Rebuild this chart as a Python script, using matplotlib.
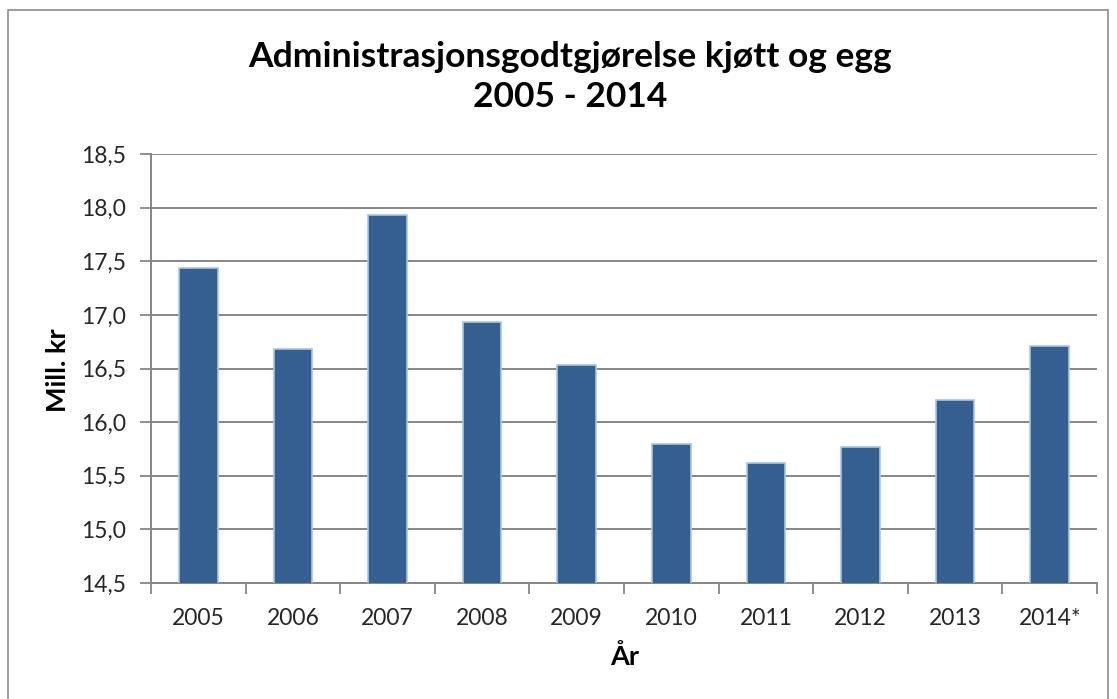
import matplotlib
matplotlib.use("Agg")
import matplotlib.pyplot as plt
from matplotlib.patches import Rectangle

years = ["2005", "2006", "2007", "2008", "2009", "2010", "2011", "2012", "2013", "2014*"]
values = [17.44, 16.68, 17.93, 16.93, 16.53, 15.80, 15.62, 15.77, 16.21, 16.71]
yticks = [14.5, 15.0, 15.5, 16.0, 16.5, 17.0, 17.5, 18.0, 18.5]
title = "Administrasjonsgodtgjørelse kjøtt og egg\n2005 - 2014"
ylabel = "Mill. kr"
xlabel = "År"

plt.rcParams['font.family'] = ['Lato', 'DejaVu Sans']

W, H = 1117, 699
fig = plt.figure(figsize=(W / 100, H / 100), dpi=100)
fig.patches.append(Rectangle((8 / W, -0.01), 1100 / W, 1 - 10 / H + 0.01,
                             transform=fig.transFigure, fill=False,
                             edgecolor="#8c8c8c", linewidth=1.2))

ax = fig.add_axes([151 / W, 1 - 583 / H, (1097 - 151) / W, (583 - 154) / H])
x = list(range(len(years)))
ax.bar(x, values, width=0.41, bottom=0, color="#365f91", edgecolor="#a9c4e4",
       linewidth=1.2, zorder=3)
ax.set_ylim(14.5, 18.5)
ax.set_xlim(-0.5, len(years) - 0.5)
ax.set_yticks(yticks)
ax.set_yticklabels([f"{v:.1f}".replace(".", ",") for v in yticks], fontsize=16.5, color="#262626")
ax.set_xticks(x)
ax.set_xticklabels(years, fontsize=16.5, color="#262626")
ax.tick_params(axis="x", length=0, pad=18)
ax.set_xticks([i - 0.5 for i in range(len(years) + 1)], minor=True)
ax.tick_params(axis="x", which="minor", length=8, width=1.3, color="#868686")
ax.tick_params(axis="y", length=8, width=1.3, color="#868686", pad=10)
ax.grid(axis="y", color="#868686", linewidth=1.4, zorder=0)
for s in ["top", "right"]:
    ax.spines[s].set_visible(False)
for s in ["left", "bottom"]:
    ax.spines[s].set_color("#868686")
    ax.spines[s].set_linewidth(1.4)

fig.text(570 / W, 1 - 77 / H, title, ha="center", va="center", fontsize=25.5,
         fontweight="bold", linespacing=1.3)
fig.text(58 / W, 1 - 370 / H, ylabel, rotation=90, ha="center", va="center",
         fontsize=19.5, fontweight="bold")
fig.text(625 / W, 1 - 657 / H, xlabel, ha="center", va="center",
         fontsize=19.5, fontweight="bold")

fig.savefig("out.png", dpi=100, facecolor="white")
